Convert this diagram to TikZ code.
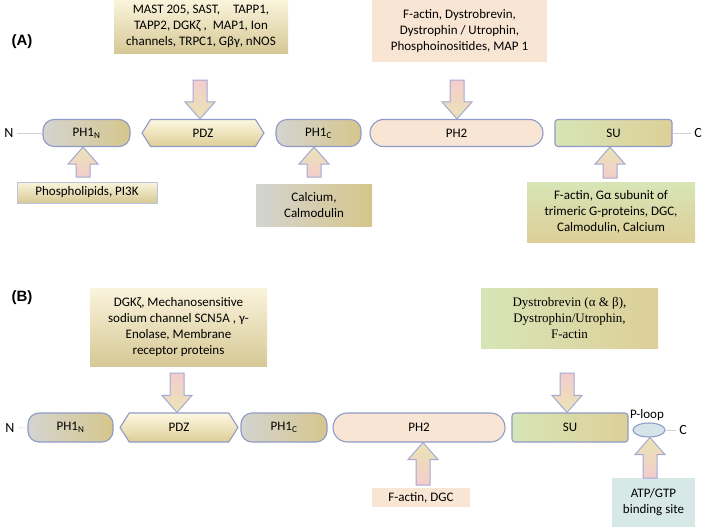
\documentclass[tikz,border=0pt]{standalone}
\usepackage{fontspec}
\setmainfont{Carlito}
\newfontfamily\timesfont{Liberation Serif}
\newfontfamily\headfont{Liberation Sans}
\usetikzlibrary{shapes.geometric,shapes.symbols,shapes.misc,calc,positioning}

\definecolor{edgeblue}{RGB}{143,155,198}
\definecolor{phgray}{RGB}{212,212,208}
\definecolor{phtan}{RGB}{214,198,140}
\definecolor{pdztop}{RGB}{253,248,226}
\definecolor{pdzbot}{RGB}{222,206,150}
\definecolor{peach}{RGB}{249,229,212}
\definecolor{sugreen}{RGB}{215,229,182}
\definecolor{sutan}{RGB}{221,207,152}
\definecolor{cream}{RGB}{250,244,220}
\definecolor{tanbox}{RGB}{214,200,150}
\definecolor{ploopfill}{RGB}{212,228,232}
\definecolor{atpfill}{RGB}{214,233,230}
\definecolor{arrpink}{RGB}{243,205,205}
\definecolor{arryel}{RGB}{234,228,180}
\definecolor{arredge}{RGB}{165,168,212}

% block arrow from a tail coordinate to the y of a domain anchor
\def\sw{7pt}\def\hw{15pt}\def\hl{17pt}
\newcommand{\bigarrow}[3][]{%
  \path[blockarr,#1] let \p1=(#2), \p2=(#3), \n1={ifthenelse(\y2>\y1,1,-1)} in
    (\x1-\sw,\y1) -- (\x1+\sw,\y1) -- (\x1+\sw,{\y2-(\n1)*\hl}) -- (\x1+\hw,{\y2-(\n1)*\hl})
    -- (\x1,\y2) -- (\x1-\hw,{\y2-(\n1)*\hl}) -- (\x1-\sw,{\y2-(\n1)*\hl}) -- cycle;}

\begin{document}
\begin{tikzpicture}[x=1pt,y=-1pt,
  font=\fontsize{13}{16}\selectfont,
  dom/.style={draw=edgeblue, line width=1.1pt, inner sep=0pt, minimum height=27pt},
  ph1/.style={dom, rounded corners=11pt, left color=phgray, right color=phtan},
  pdz/.style={dom, signal, signal to=west and east, signal pointer angle=115, top color=pdztop, bottom color=pdzbot},
  ph2/.style={dom, rounded rectangle, fill=peach},
  su/.style={dom, rounded corners=3pt, left color=sugreen, right color=sutan},
  box/.style={inner sep=0pt, align=center},
  tag/.style={font=\headfont\bfseries\fontsize{15}{18}\selectfont},
  ends/.style={font=\fontsize{14}{16}\selectfont},
  backbone/.style={draw=gray!35, line width=0.6pt},
  blockarr/.style={draw=arredge, line width=1pt, line join=miter},
  down/.style={top color=arrpink, bottom color=arryel},
  up/.style={top color=arryel, bottom color=arrpink}]
\useasboundingbox (0,0) rectangle (709,530);

%% (A)
\node[tag] (labA) at (22,42) {(A)};
\node[box, minimum width=174pt, minimum height=53pt, top color=cream, bottom color=tanbox] (mastA) at (201,26.5)
  {MAST 205, SAST,\quad TAPP1,\\ TAPP2, DGKζ ,\ \ MAP1, Ion\\ channels, TRPC1, Gβγ, nNOS};
\node[box, minimum width=175pt, minimum height=62pt, fill=peach] (factA) at (459.5,31)
  {F-actin, Dystrobrevin,\\ Dystrophin / Utrophin,\\ Phosphoinositides, MAP 1};

\node[ends] (nA) at (9,133) {N};
\node[ends] (cA) at (698,133) {C};
\node[ph1, minimum width=87pt] (ph1nA) at (86.5,133) {PH1\textsubscript{N}};
\node[pdz, minimum width=122pt] (pdzA) at (203,133) {PDZ};
\node[ph1, minimum width=85pt] (ph1cA) at (318.5,133) {PH1\textsubscript{C}};
\node[ph2, minimum width=173pt] (ph2A) at (456.5,133) {PH2};
\node[su, minimum width=117pt] (suA) at (613.5,133) {SU};
\draw[backbone] (nA) -- (ph1nA);
\draw[backbone] (suA) -- (cA);

\node[box, minimum width=140pt, minimum height=21pt, top color=cream, bottom color=tanbox, draw=edgeblue!60] (phosA) at (87,192.5)
  {Phospholipids, PI3K};
\node[box, minimum width=116pt, minimum height=42pt, left color=phgray, right color=phtan] (calcA) at (314,205)
  {Calcium,\\ Calmodulin};
\node[box, minimum width=168pt, minimum height=60pt, top color=sugreen, bottom color=sutan] (suboxA) at (611,212)
  {F-actin, Gα subunit of\\ trimeric G-proteins, DGC,\\ Calmodulin, Calcium};

\coordinate (tpdzA) at (200,80);
\coordinate (tph2A) at (457,80);
\coordinate (tph1nA) at (83,177);
\coordinate (tph1cA) at (314,177);
\coordinate (tsuA) at (610,178);
\bigarrow[down]{tpdzA}{pdzA.north}
\bigarrow[down]{tph2A}{ph2A.north}
\bigarrow[up]{tph1nA}{ph1nA.south}
\bigarrow[up]{tph1cA}{ph1cA.south}
\bigarrow[up]{tsuA}{suA.south}

%% (B)
\node[tag] (labB) at (22,298) {(B)};
\node[box, minimum width=177pt, minimum height=78pt, top color=cream, bottom color=tanbox] (dgkB) at (178.5,327)
  {DGKζ, Mechanosensitive\\ sodium channel SCN5A , γ-\\ Enolase, Membrane\\ receptor proteins};
\node[box, minimum width=177pt, minimum height=60pt, left color=sugreen, right color=sutan,
  font=\timesfont\fontsize{13}{16}\selectfont] (dysB) at (569.5,318)
  {Dystrobrevin (α \& β),\\ Dystrophin/Utrophin,\\ F-actin};

\node[ends] (nB) at (10,428) {N};
\node[ends] (cB) at (683,430) {C};
\node[ph1, minimum width=85pt, minimum height=29pt] (ph1nB) at (70.5,427.5) {PH1\textsubscript{N}};
\node[pdz, minimum width=118pt, minimum height=29pt] (pdzB) at (179,427.5) {PDZ};
\node[ph1, minimum width=86pt, minimum height=29pt] (ph1cB) at (284,427.5) {PH1\textsubscript{C}};
\node[ph2, minimum width=172pt, minimum height=29pt] (ph2B) at (419,427.5) {PH2};
\node[su, minimum width=116pt, minimum height=29pt] (suB) at (570,427.5) {SU};
\node[draw=edgeblue, line width=1.1pt, ellipse, fill=ploopfill, minimum width=32pt, minimum height=14pt, inner sep=0pt] (ploopB) at (649,430) {};
\node[above=2pt of ploopB, inner sep=0pt, xshift=-2pt] (plabB) {P-loop};
\draw[backbone] (nB) -- (ph1nB);
\draw[backbone] (ploopB) -- (cB);

\node[box, minimum width=98pt, minimum height=19pt, fill=peach] (fdgcB) at (421,497.5) {F-actin, DGC};
\node[box, minimum width=83pt, minimum height=49pt, fill=atpfill] (atpB) at (653.5,502.5)
  {ATP/GTP\\ binding site};

\coordinate (tpdzB) at (177,373);
\coordinate (tsuB) at (567,373);
\coordinate (tph2B) at (423,485);
\coordinate (tploopB) at (650,478);
\bigarrow[down]{tpdzB}{pdzB.north}
\bigarrow[down]{tsuB}{suB.north}
\bigarrow[up]{tph2B}{ph2B.south}
\bigarrow[up]{tploopB}{ploopB.south}
\end{tikzpicture}
\end{document}
